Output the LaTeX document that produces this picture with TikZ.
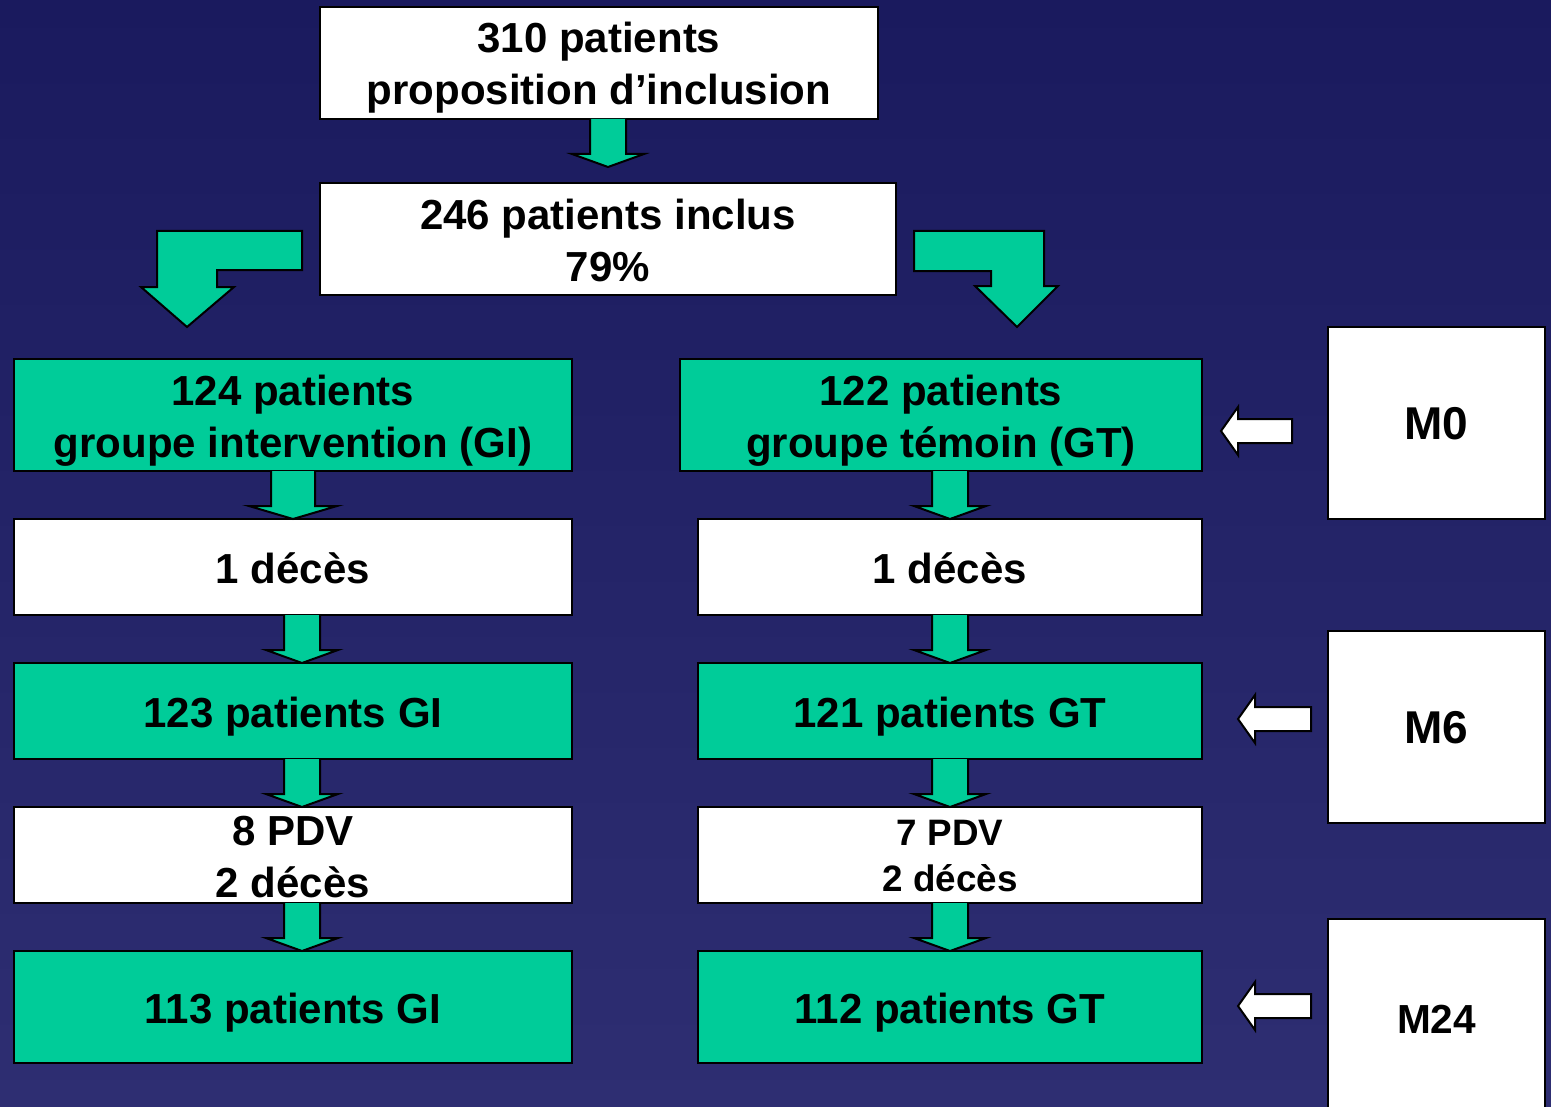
\documentclass[tikz,border=0pt]{standalone}
\usepackage{fontspec}
\setmainfont{Liberation Sans}
\usetikzlibrary{calc}

\definecolor{bgtop}{HTML}{1A1A5E}
\definecolor{bgbot}{HTML}{2E2E72}
\definecolor{flowgreen}{HTML}{00CC99}

% block arrow pointing down: from #1 to the tip #2, #3 = half width of the shaft
\newcommand{\flowdown}[3]{%
  \draw[blockarrow] let \p1=#1, \p2=#2 in
    (\x1-#3,\y1) -- (\x1-#3,\y2+6.5pt) -- (\x1-2*#3,\y2+6.5pt) -- (\x1,\y2)
    -- (\x1+2*#3,\y2+6.5pt) -- (\x1+#3,\y2+6.5pt) -- (\x1+#3,\y1);}
% white block arrow pointing left: from #1 to the tip at #2
\newcommand{\flowleft}[2]{%
  \draw[backarrow] let \p1=#1, \p2=#2 in
    (\x1,\y1+6pt) -- (\x2+8.5pt,\y1+6pt) -- (\x2+8.5pt,\y1+12pt) -- (\x2,\y1)
    -- (\x2+8.5pt,\y1-12pt) -- (\x2+8.5pt,\y1-6pt) -- (\x1,\y1-6pt) -- cycle;}

\begin{document}
\begin{tikzpicture}[
  x=0.5pt, y=-0.5pt,
  box/.style={draw=black, line width=1pt, inner sep=0pt, outer sep=0pt, align=center,
              minimum width=279pt, minimum height=48pt,
              font=\bfseries\fontsize{21}{26}\selectfont,
              text height=16pt, text depth=0pt},
  twolines/.style={text height=42pt},
  whitebox/.style={box, fill=white},
  greenbox/.style={box, fill=flowgreen},
  mbox/.style={box, fill=white, minimum width=108.5pt, minimum height=96pt,
               font=\bfseries\fontsize{23}{28}\selectfont},
  blockarrow/.style={draw=black, line width=1pt, fill=flowgreen, line join=miter},
  backarrow/.style={draw=black, line width=1pt, fill=white, line join=miter}
]
\useasboundingbox (0,0) rectangle (1551,1107);
\clip (0,0) rectangle (1551,1107);
\shade[top color=bgtop, bottom color=bgbot] (0,0) rectangle (1551,1107);

% Top: inclusion
\node[whitebox, twolines, minimum height=56pt] (prop) at (599,63) {310 patients\\proposition d’inclusion};
\node[whitebox, twolines, minimum width=288pt, minimum height=56pt] (inclus) at (608,239) {246 patients inclus\\79\%};

% Groups
\node[greenbox, twolines, minimum height=56pt] (gi) at (293,415) {124 patients\\groupe intervention (GI)};
\node[greenbox, twolines, minimum width=261pt, minimum height=56pt] (gt) at (941,415) {122 patients\\groupe témoin (GT)};

% Left column: GI
\node[whitebox] (gidec) at (293,567) {1 décès};
\node[greenbox] (gisix) at (293,711) {123 patients GI};
\node[whitebox, twolines] (gipdv) at (293,855) {8 PDV\\2 décès};
\node[greenbox, minimum height=56pt] (gifin) at (293,1007) {113 patients GI};

% Right column: GT
\node[whitebox, minimum width=252pt] (gtdec) at (950,567) {1 décès};
\node[greenbox, minimum width=252pt] (gtsix) at (950,711) {121 patients GT};
\node[whitebox, minimum width=252pt, font=\bfseries\fontsize{18.4}{23}\selectfont,
      text height=36pt] (gtpdv) at (950,855) {7 PDV\\2 décès};
\node[greenbox, minimum width=252pt, minimum height=56pt] (gtfin) at (950,1007) {112 patients GT};

% Time points
\node[mbox] (mzero) at (1436.5,423) {M0};
\node[mbox] (msix) at (1436.5,727) {M6};
\node[mbox, minimum height=98pt, font=\bfseries\fontsize{20.3}{25}\selectfont] (mfin) at (1436.5,1017) {M24};

% Arrows
\flowdown{(prop.south -| inclus.north)}{($(inclus.north)+(0,-16)$)}{9pt}
\begin{scope}[shift={(inclus.west)}]
  \draw[blockarrow] (-18,-8) -- (-163,-8) -- (-163,48) -- (-179,48) -- (-133,88)
    -- (-86,48) -- (-103,48) -- (-103,31) -- (-18,31) -- cycle;
\end{scope}
\begin{scope}[shift={(inclus.east)}]
  \draw[blockarrow] (18,-8) -- (148,-8) -- (148,47) -- (162,47) -- (121,88)
    -- (79,47) -- (95,47) -- (95,32) -- (18,32) -- cycle;
\end{scope}

\flowdown{(gi.south)}{(gidec.north)}{11pt}
\flowdown{($(gidec.south)+(9,0)$)}{(gisix.north)}{9pt}
\flowdown{($(gisix.south)+(9,0)$)}{(gipdv.north)}{9pt}
\flowdown{($(gipdv.south)+(9,0)$)}{(gifin.north)}{9pt}

\flowdown{(gt.south -| gtdec.north)}{(gtdec.north)}{9pt}
\flowdown{(gtdec.south)}{(gtsix.north)}{9pt}
\flowdown{(gtsix.south)}{(gtpdv.north)}{9pt}
\flowdown{(gtpdv.south)}{(gtfin.north)}{9pt}

\flowleft{($(mzero.west)+(-36,8)$)}{($(gt.east)+(19,0)$)}
\flowleft{($(msix.west)+(-17,-8)$)}{($(gtsix.east)+(36,0)$)}
\flowleft{($(mfin.west)+(-17,-11)$)}{($(gtfin.east)+(36,0)$)}
\end{tikzpicture}
\end{document}
